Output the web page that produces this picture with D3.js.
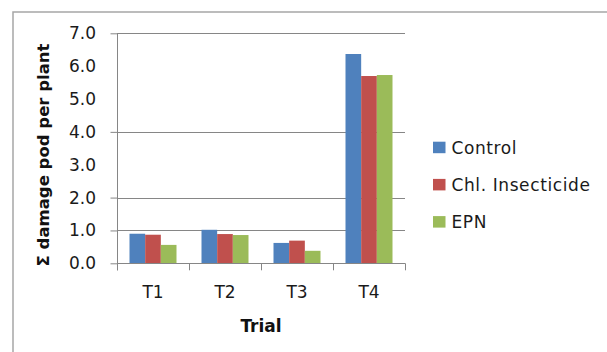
<!DOCTYPE html>
<html><head><meta charset="utf-8">
<script src="https://cdn.jsdelivr.net/npm/d3@7"></script>
<style>html,body{margin:0;padding:0;background:#fff;}svg{display:block;}</style>
</head><body>
<svg id="chart" width="607" height="352"></svg>
<script>
const categories = ["T1", "T2", "T3", "T4"];
const seriesNames = ["Control", "Chl. Insecticide", "EPN"];
const control = [0.90, 1.02, 0.62, 6.37];
const chlInsecticide = [0.87, 0.89, 0.69, 5.70];
const epn = [0.56, 0.86, 0.38, 5.73];
const seriesColors = ["#4f81bd", "#c0504d", "#9bbb59"];
const yTicks = [0, 1, 2, 3, 4, 5, 6, 7];
const gridValues = [1, 2, 4, 7];
const tickMarkValues = [0, 1, 2, 4, 7];

(function () {
const seriesValues = [control, chlInsecticide, epn];
const svg = d3.select("#chart");

// outer frame
svg.append("rect").attr("x", 13).attr("y", 12).attr("width", 620).attr("height", 360)
  .attr("fill", "none").attr("stroke", "#a6a6a6").attr("stroke-width", 1.5);

const pLeft = 117, pRight = 405, pTop = 33.3, pBottom = 263.3;
const x = d3.scaleBand().domain(categories).range([pLeft, pRight]);
const xs = d3.scaleBand().domain(seriesNames).range([12.5, x.bandwidth() - 12.5]);
const y = d3.scaleLinear().domain([0, 7]).range([pBottom, pTop]);

// gridlines
svg.append("g").selectAll("line").data(gridValues).join("line")
  .attr("x1", pLeft).attr("x2", pRight)
  .attr("y1", d => Math.round(y(d)) + 0.5).attr("y2", d => Math.round(y(d)) + 0.5)
  .attr("stroke", "#868686").attr("stroke-width", 1);

// bars
const g = svg.append("g");
seriesValues.forEach((vals, si) => {
  g.selectAll(null).data(vals).join("rect")
    .attr("x", (d, i) => x(categories[i]) + xs(seriesNames[si]))
    .attr("width", xs.bandwidth())
    .attr("y", d => y(d))
    .attr("height", d => y(0) - y(d))
    .attr("fill", seriesColors[si]);
});

// y axis
const yAxis = d3.axisLeft(y).tickValues(tickMarkValues).tickSize(7).tickFormat("");
const ya = svg.append("g").attr("transform", `translate(${pLeft + 0.5},0)`).call(yAxis);
ya.select(".domain").remove();
ya.selectAll(".tick line").attr("stroke", "#868686");
svg.append("line").attr("x1", pLeft + 0.5).attr("x2", pLeft + 0.5)
  .attr("y1", pTop).attr("y2", pBottom + 7).attr("stroke", "#868686");

// y tick labels
svg.append("g").selectAll("text").data(yTicks).join("text")
  .attr("x", 96).attr("y", d => y(d) + 6)
  .attr("text-anchor", "end")
  .attr("font-family", "DejaVu Sans").attr("font-size", 17).attr("fill", "#1a1a1a")
  .text(d => d3.format(".1f")(d));

// x axis
svg.append("line").attr("x1", pLeft).attr("x2", pRight)
  .attr("y1", Math.round(pBottom) + 0.5).attr("y2", Math.round(pBottom) + 0.5)
  .attr("stroke", "#868686");
const boundaries = categories.map(c => x(c)).concat([pRight]);
svg.append("g").selectAll("line").data(boundaries).join("line")
  .attr("x1", d => Math.round(d) + 0.5).attr("x2", d => Math.round(d) + 0.5)
  .attr("y1", pBottom).attr("y2", pBottom + 7).attr("stroke", "#868686");

svg.append("g").selectAll("text").data(categories).join("text")
  .attr("x", d => x(d) + x.bandwidth() / 2).attr("y", 298)
  .attr("text-anchor", "middle")
  .attr("font-family", "DejaVu Sans").attr("font-size", 17).attr("fill", "#1a1a1a")
  .text(d => d);

// axis titles
svg.append("text").attr("x", 261).attr("y", 331.5).attr("text-anchor", "middle")
  .attr("font-family", "DejaVu Sans").attr("font-weight", "bold").attr("font-size", 17)
  .attr("fill", "#111").text("Trial");

svg.append("text").attr("transform", "translate(49,155) rotate(-90)")
  .attr("text-anchor", "middle")
  .attr("font-family", "DejaVu Sans").attr("font-weight", "bold").attr("font-size", 16.5)
  .attr("fill", "#111").text("Σ damage pod per plant");

// legend
const leg = svg.append("g");
seriesNames.forEach((name, i) => {
  const cy = 147.5 + i * 37.2;
  leg.append("rect").attr("x", 433).attr("y", cy - 5.8).attr("width", 12.5).attr("height", 11.5)
    .attr("fill", seriesColors[i]);
  leg.append("text").attr("x", 451.5).attr("y", cy + 6.3)
    .attr("font-family", "DejaVu Sans").attr("font-size", 17).attr("letter-spacing", 0.6)
    .attr("fill", "#1a1a1a").text(name);
});
})();
</script>
</body></html>
